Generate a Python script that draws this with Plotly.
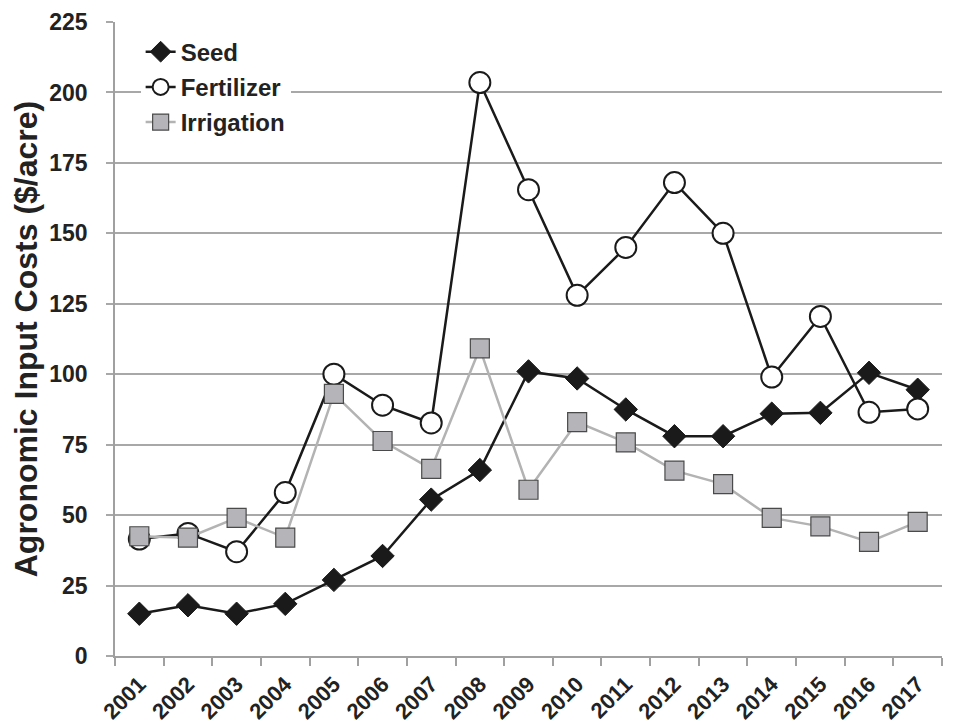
import plotly.graph_objects as go

years = [str(y) for y in range(2001, 2018)]
seed = [15, 18, 15, 18.5, 27, 35.5, 55.5, 66, 101, 98.5, 87.5, 78, 78, 86, 86.3, 100.5, 94.5]
fertilizer = [41.5, 43.5, 37, 58, 100, 89, 82.7, 203.5, 165.5, 128, 145, 168, 150, 99, 120.5, 86.5, 87.7]
irrigation = [42.5, 42, 49, 42, 93, 76.3, 66.4, 109.2, 59, 83, 75.8, 65.8, 61, 49, 46, 40.5, 47.6]

font_family = "Liberation Sans, Arial, sans-serif"
txt = "#222222"

fig = go.Figure()
fig.add_trace(go.Scatter(
    x=years, y=seed, name="Seed", mode="lines+markers", legendgroup="a",
    line=dict(color="#1a1a1a", width=2.5),
    marker=dict(symbol="diamond", size=18, color="#1a1a1a", line=dict(color="#1a1a1a", width=1)),
))
fig.add_trace(go.Scatter(
    x=years, y=fertilizer, name="Fertilizer", mode="lines+markers", legendgroup="b",
    line=dict(color="#1a1a1a", width=2.5),
    marker=dict(symbol="circle", size=21, color="white", line=dict(color="#1a1a1a", width=2)),
))
fig.add_trace(go.Scatter(
    x=years, y=irrigation, name="Irrigation", mode="lines+markers", legendgroup="c",
    line=dict(color="#b3b3b3", width=2.5),
    marker=dict(symbol="square", size=19, color="#b5b5b9", line=dict(color="#4a4a4a", width=1.2)),
))

fig.update_layout(
    width=953, height=723,
    margin=dict(l=107, r=19, t=14, b=75),
    paper_bgcolor="white", plot_bgcolor="white",
    font=dict(family=font_family, color=txt),
    showlegend=True,
    legend=dict(
        x=0.031, y=0.988, xanchor="left", yanchor="top",
        bgcolor="white", traceorder="grouped", tracegroupgap=1,
        font=dict(size=24, family=font_family, color=txt, weight="bold"),
        itemwidth=30,
    ),
    xaxis=dict(
        type="category", tickson="boundaries", automargin=False,
        showgrid=False, showline=True, linecolor="#a0a0a0", linewidth=1.5,
        ticks="outside", ticklen=8, tickcolor="#a0a0a0", tickwidth=1.5,
        tickangle=-45, ticklabelstandoff=5,
        tickfont=dict(size=22, family=font_family, color=txt, weight="bold"),
        range=[-0.5, 16.5],
    ),
    yaxis=dict(
        range=[0, 225], dtick=25, tick0=0, automargin=False,
        showgrid=True, gridcolor="#a8a8a8", gridwidth=1.5,
        showline=True, linecolor="#a0a0a0", linewidth=1.5,
        ticks="outside", ticklen=7, tickcolor="#a8a8a8", tickwidth=1.5,
        ticklabelstandoff=14,
        tickfont=dict(size=23, family=font_family, color=txt, weight="bold"),
        title=dict(text="Agronomic Input Costs ($/acre)", standoff=17,
                   font=dict(size=32, family=font_family, color=txt, weight="bold")),
        zeroline=False,
    ),
)

fig.write_html("out.html")
